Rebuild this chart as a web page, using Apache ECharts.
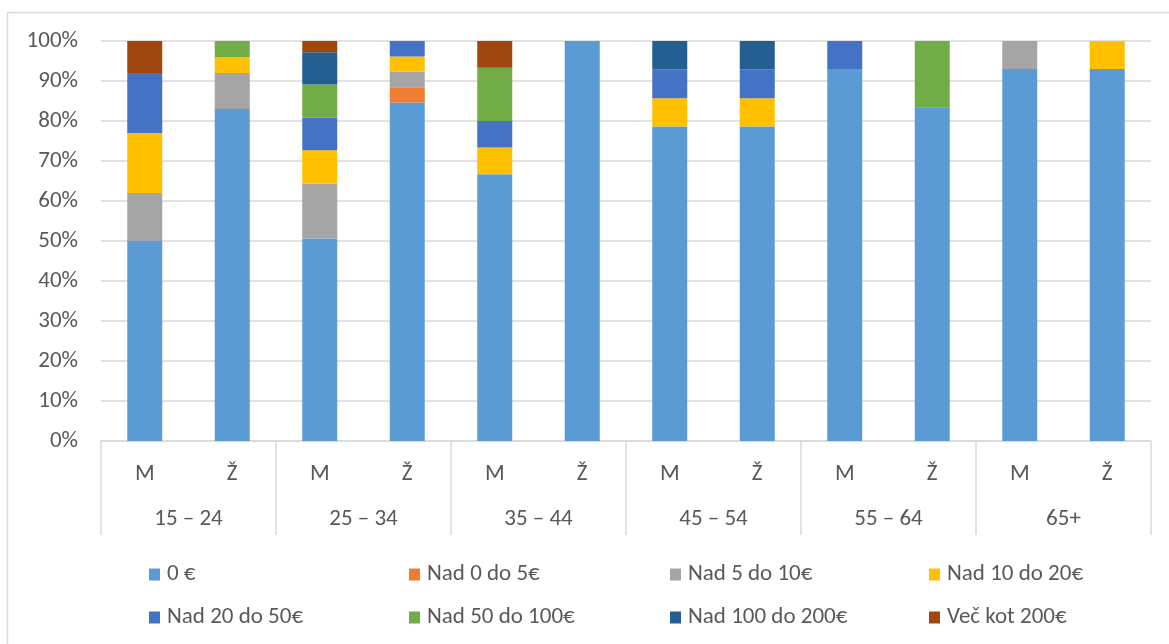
<!DOCTYPE html>
<html>
<head>
<meta charset="utf-8">
<script src="https://cdn.jsdelivr.net/npm/echarts@6/dist/echarts.min.js"></script>
<style>
  html, body { margin: 0; padding: 0; background: #ffffff; }
  #chart { width: 1169px; height: 644px; }
</style>
</head>
<body>
<div id="chart"></div>
<script>
// Bars: sex within age group
const sexLabels = ['M', 'Ž', 'M', 'Ž', 'M', 'Ž', 'M', 'Ž', 'M', 'Ž', 'M', 'Ž'];
const ageGroups = ['15 – 24', '25 – 34', '35 – 44', '45 – 54', '55 – 64', '65+'];

// Share of respondents (%) per spending bracket, one value per bar
const seriesNames = ['0 €', 'Nad 0 do 5€', 'Nad 5 do 10€', 'Nad 10 do 20€',
                     'Nad 20 do 50€', 'Nad 50 do 100€', 'Nad 100 do 200€', 'Več kot 200€'];
const eur0      = [50, 83, 50.6, 84.6, 66.7, 100, 78.6, 78.6, 93, 83.3, 93, 93];
const over0to5  = [0, 0, 0, 3.85, 0, 0, 0, 0, 0, 0, 0, 0];
const over5to10 = [12, 9, 13.8, 3.85, 0, 0, 0, 0, 0, 0, 7, 0];
const over10to20 = [15, 4, 8.3, 3.85, 6.7, 0, 7.1, 7.1, 0, 0, 0, 7];
const over20to50 = [15, 0, 8.1, 3.85, 6.6, 0, 7.2, 7.2, 7, 0, 0, 0];
const over50to100 = [0, 4, 8.3, 0, 13.3, 0, 0, 0, 0, 16.7, 0, 0];
const over100to200 = [0, 0, 8.1, 0, 0, 0, 7.1, 7.1, 0, 0, 0, 0];
const over200   = [8, 0, 2.8, 0, 6.7, 0, 0, 0, 0, 0, 0, 0];
const yTicks = [0, 10, 20, 30, 40, 50, 60, 70, 80, 90, 100];

const values = [eur0, over0to5, over5to10, over10to20, over20to50, over50to100, over100to200, over200];
const colors = ['#5B9BD5', '#ED7D31', '#A5A5A5', '#FFC000', '#4472C4', '#70AD47', '#255E91', '#9E480E'];

const textColor = '#595959';
const lineColor = '#D9D9D9';
const font = 'Calibri, Carlito, "Liberation Sans", "Open Sans", sans-serif';
const fontSize = 23;

// Legend: two rows of four entries in fixed columns
const legendCols = [149, 409, 670, 929];
const legendRows = [563, 606];
const legends = seriesNames.map((name, i) => ({
  data: [name],
  left: legendCols[i % 4],
  top: legendRows[Math.floor(i / 4)],
  padding: 0,
  itemWidth: 11, itemHeight: 12, icon: 'rect', itemGap: 0,
  textStyle: { color: textColor, fontSize: fontSize, fontFamily: font, padding: [0, 0, 0, 2] }
}));

const chart = echarts.init(document.getElementById('chart'), null, { renderer: 'canvas' });

chart.setOption({
  animation: false,
  textStyle: { fontFamily: font },
  graphic: [{
    type: 'rect',
    shape: { x: 7.5, y: 12.5, width: 1200, height: 700 },
    style: { fill: 'none', stroke: lineColor, lineWidth: 1.5 },
    silent: true,
    z: -10
  }],
  grid: { left: 101, right: 18, top: 41, bottom: 203 },
  legend: legends,
  xAxis: [
    {
      type: 'category',
      data: sexLabels,
      position: 'bottom',
      axisLine: { show: true, lineStyle: { color: lineColor, width: 1.5 } },
      axisTick: { show: false },
      axisLabel: { color: textColor, fontSize: fontSize, fontFamily: font, margin: 22 }
    },
    {
      type: 'category',
      data: ageGroups,
      position: 'bottom',
      axisLine: { show: false },
      axisTick: { show: true, length: 94, lineStyle: { color: lineColor, width: 1.5 } },
      axisLabel: { color: textColor, fontSize: fontSize, fontFamily: font, margin: 67 }
    }
  ],
  yAxis: {
    type: 'value',
    min: yTicks[0],
    max: yTicks[yTicks.length - 1],
    interval: yTicks[1] - yTicks[0],
    axisLine: { show: false },
    axisTick: { show: false },
    axisLabel: { color: textColor, fontSize: fontSize, fontFamily: font, margin: 23, formatter: '{value}%' },
    splitLine: { lineStyle: { color: lineColor, width: 1.5 } }
  },
  series: seriesNames.map((name, i) => ({
    name: name,
    type: 'bar',
    stack: 'total',
    xAxisIndex: 0,
    barWidth: '40%',
    data: values[i],
    itemStyle: { color: colors[i] }
  }))
});
</script>
</body>
</html>
